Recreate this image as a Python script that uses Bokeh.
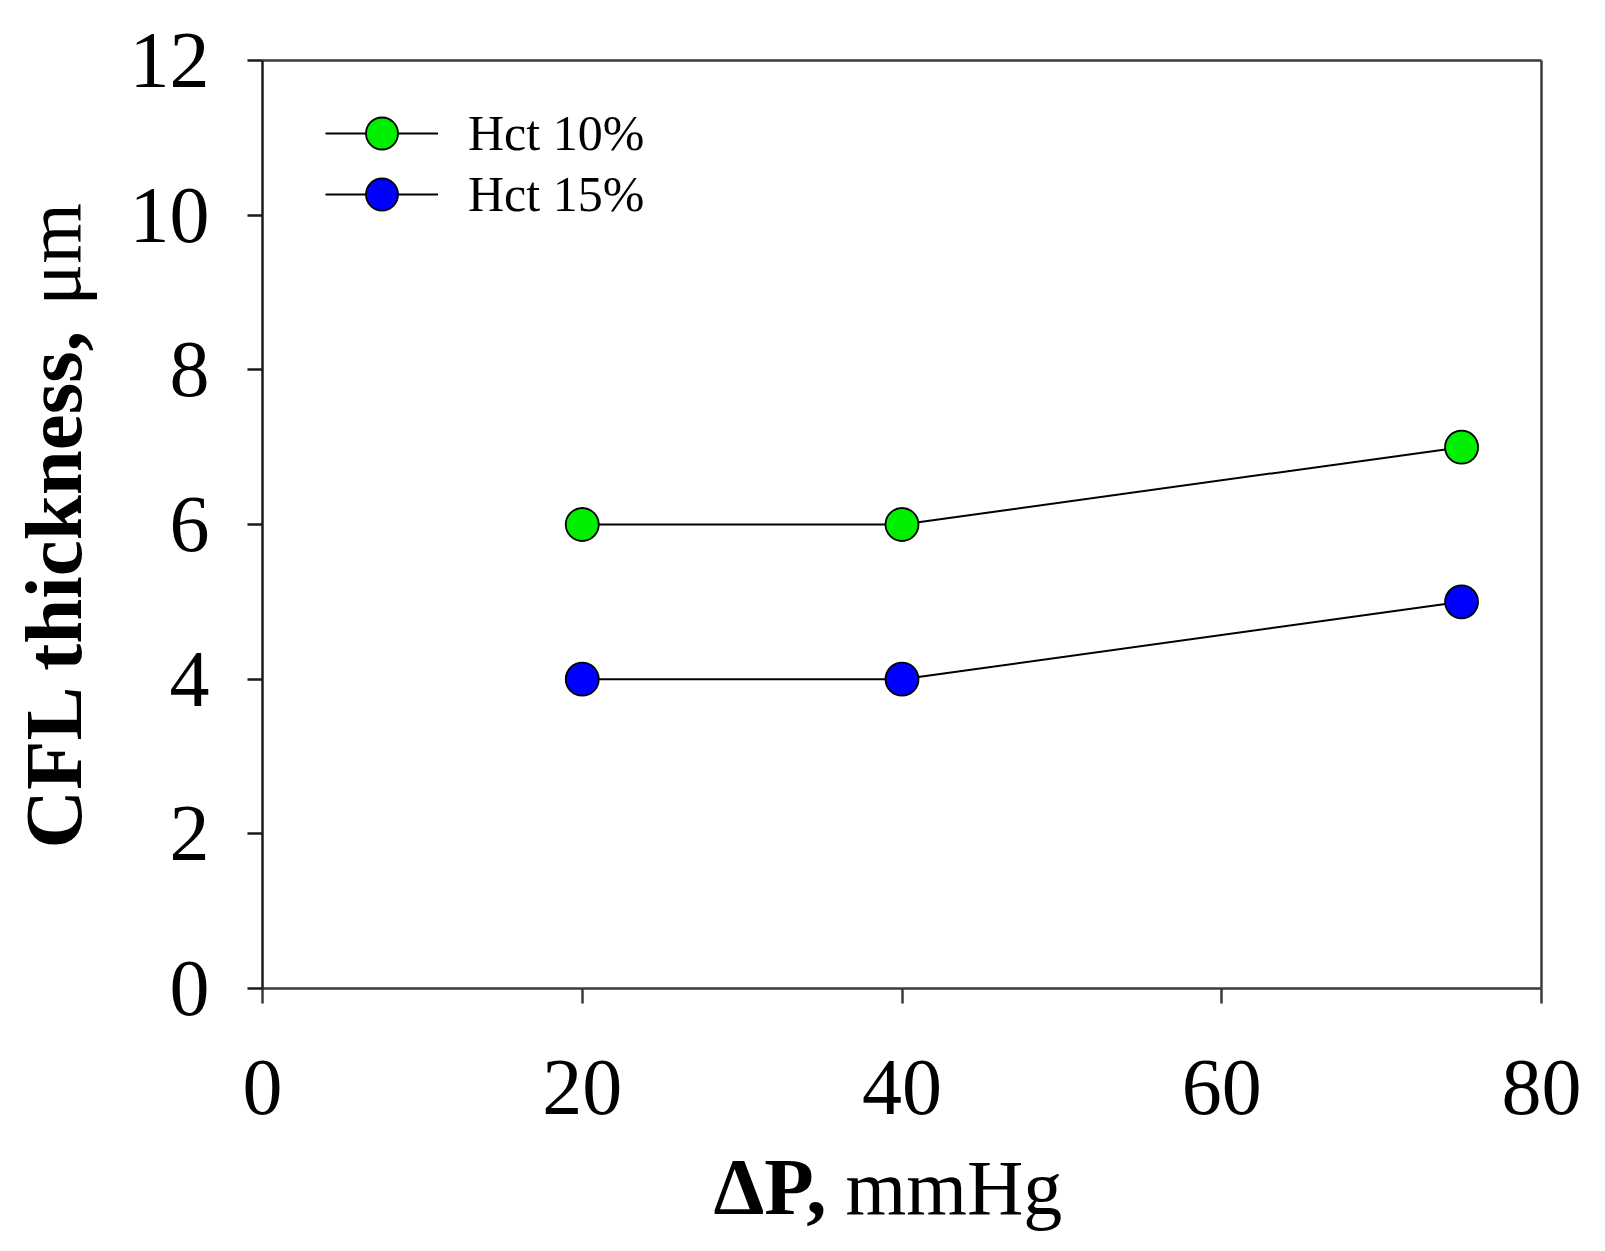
import math
from bokeh.plotting import figure
from bokeh.models import Range1d, FixedTicker, Label, Legend, LinearAxis
from bokeh.embed import file_html
from bokeh.resources import INLINE

# ---- data ----
pressure = [20, 40, 75]                 # ΔP, mmHg
hct10 = [6, 6, 7]                       # CFL thickness, µm
hct15 = [4, 4, 5]
x_ticks = [0, 20, 40, 60, 80]
y_ticks = [0, 2, 4, 6, 8, 10, 12]
x_lim = (0, 80)
y_lim = (0, 12)
series_names = ["Hct 10%", "Hct 15%"]
series_colors = ["#00ee00", "#0000ff"]

FONT = "Liberation Serif"

# ---- layout (pixels) ----
W, H = 1589, 1243
FX0, FX1, FY0, FY1 = 262, 1541, 60, 988      # visible plot box (left, right, top, bottom)
xpx = (FX1 - FX0) / (x_lim[1] - x_lim[0])
ypx = (FY1 - FY0) / (y_lim[1] - y_lim[0])
xr = Range1d(x_lim[0] - FX0 / xpx, x_lim[1] + (W - FX1) / xpx)
yr = Range1d(y_lim[0] - (H - FY1) / ypx, y_lim[1] + FY0 / ypx)

p = figure(width=W, height=H, output_backend="svg", toolbar_location=None,
           x_range=xr, y_range=yr, min_border=0,
           min_border_left=0, min_border_right=0, min_border_top=0, min_border_bottom=0)
p.title.visible = False
p.background_fill_color = "white"
p.border_fill_color = "white"
p.grid.visible = False
p.outline_line_color = None

xa, ya = p.xaxis[0], p.yaxis[0]
xa.fixed_location = y_lim[0]
ya.fixed_location = x_lim[0]
xa.bounds = x_lim
ya.bounds = y_lim
for ax, col in ((xa, "#3a3a3a"), (ya, "#1a1a1a")):
    ax.axis_line_color = col
    ax.axis_line_width = 2.5
    ax.major_tick_line_color = col
    ax.major_tick_line_width = 2.5
    ax.major_tick_in = 0
    ax.major_tick_out = 15
    ax.minor_tick_line_color = None
    ax.major_label_text_font = FONT
    ax.major_label_text_font_size = "80px"
    ax.major_label_text_color = "black"
xa.ticker = FixedTicker(ticks=x_ticks)
ya.ticker = FixedTicker(ticks=y_ticks)
xa.major_label_standoff = 57
ya.major_label_standoff = 38

# top and right edges of the box
for side, loc, bnd in (("above", y_lim[1], x_lim), ("right", x_lim[1], y_lim)):
    ax = LinearAxis(fixed_location=loc, bounds=bnd, ticker=FixedTicker(ticks=[]),
                    axis_line_color="#3a3a3a", axis_line_width=2.5,
                    major_tick_line_color=None, minor_tick_line_color=None,
                    major_label_text_font_size="0px")
    p.add_layout(ax, side)

legend_bottoms = [H - 173, H - 234]   # legend box bottoms, px above canvas bottom
for ys, name, col, ly in zip([hct10, hct15], series_names, series_colors, legend_bottoms):
    r1 = p.line(pressure, ys, line_color="black", line_width=2)
    r2 = p.scatter(pressure, ys, size=33, fill_color=col, line_color="black", line_width=1.8)
    lg = Legend(items=[(name, [r1, r2])], location=(325, ly), padding=0, margin=0,
                glyph_width=113, glyph_height=80, label_standoff=30,
                label_text_font=FONT, label_text_font_size="50px", label_text_color="black",
                border_line_color=None, background_fill_alpha=0)
    p.add_layout(lg)

# axis titles (bold + normal parts)
common = dict(x_units="data", y_units="data", text_font=FONT,
              text_color="black", text_baseline="alphabetic")
p.add_layout(Label(text="CFL thickness,", x=-13.07, y=8.56, angle=math.pi / 2,
                   text_font_size="81px", text_font_style="bold", text_align="right", **common))
p.add_layout(Label(text="μm", x=-13.07, y=8.832, angle=math.pi / 2,
                   text_font_size="78px", text_font_style="normal", text_align="left", **common))
p.add_layout(Label(text="ΔP,", x=35.28, y=-2.573,
                   text_font_size="81px", text_font_style="bold", text_align="right", **common))
p.add_layout(Label(text="mmHg", x=36.47, y=-2.573,
                   text_font_size="78px", text_font_style="normal", text_align="left", **common))

open("out.html", "w").write(file_html(p, INLINE))
